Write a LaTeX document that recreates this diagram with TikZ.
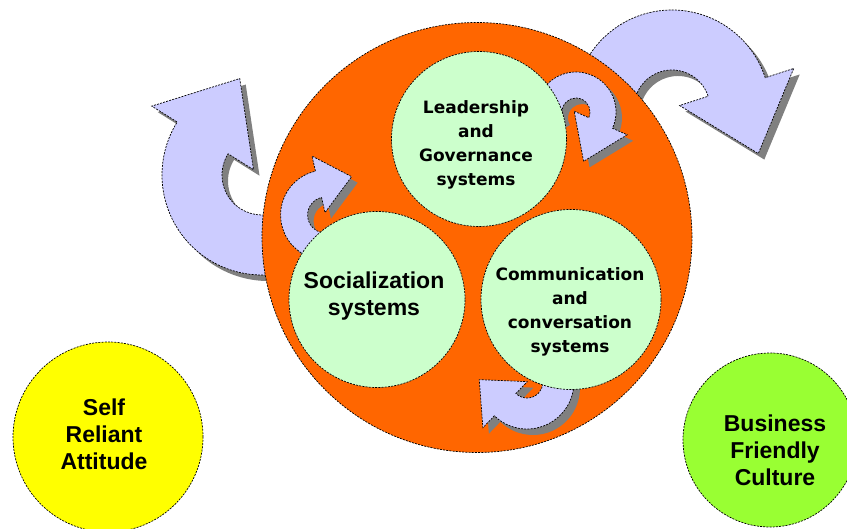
\documentclass[tikz,border=0pt]{standalone}
\usepackage{fontspec}
\usepackage{tikz}
\usetikzlibrary{calc,positioning}
\newfontfamily\headfont{Liberation Sans}
\newfontfamily\sysfont{DejaVu Sans}
\definecolor{hubred}{HTML}{FF6600}
\definecolor{sysgreen}{HTML}{CCFFCC}
\definecolor{arrowblue}{HTML}{CCCCFF}
\definecolor{shadowgray}{HTML}{808080}
\definecolor{selfyellow}{HTML}{FFFF00}
\definecolor{bizgreen}{HTML}{99FF33}
\tikzset{
  outline/.style={draw=black, line width=0.7pt, dash pattern=on 2pt off 1.2pt},
  turn/.style={outline, fill=arrowblue},
  turnshade/.style={fill=shadowgray, transform canvas={shift={(6pt,-6pt)}}},
  ring/.style={outline, circle, inner sep=0pt, minimum size=#1},
  bigtxt/.style={align=center, font=\headfont\bfseries\fontsize{23}{27}\selectfont},
  smalltxt/.style={align=center, font=\sysfont\bfseries\fontsize{17}{24}\selectfont}
}
% centre, inner r, outer r, tail angle, head angle, head half width, head length
\newcommand{\turnarrow}[7]{%
  \foreach \look in {turnshade,turn}
  \path[\look] ($(#1)+(#4:#3)$)
    arc[start angle=#4, end angle=#5, radius=#3]
    -- ($(#1)+(#5:{(#2+#3)/2+#6})$)
    -- ($(#1)+(#5:{(#2+#3)/2})+({#5+90}:#7)$)
    -- ($(#1)+(#5:{(#2+#3)/2-#6})$)
    -- ($(#1)+(#5:#2)$)
    arc[start angle=#5, end angle=#4, radius=#2] -- cycle;}

\begin{document}
\begin{tikzpicture}[x=1pt, y=-1pt]
  \useasboundingbox (0,0) rectangle (847,529);
  % outer loops
  \turnarrow{262,175}{40}{100}{60}{212}{60}{70}
  \turnarrow{672,108}{38}{98}{195}{342}{60}{70}
  \node[ring=430pt, fill=hubred] at (477,237.5) (hub) {};
  % inner loops
  \turnarrow{325.6,215}{18}{45}{90}{257}{29}{34}
  \turnarrow{576,112}{14}{40}{150}{384}{29}{42}
  \turnarrow{527,382}{16}{47}{-30}{134}{32}{36}
  \node[ring=175pt, fill=sysgreen] at (479,139) (lead) {};
  \node[ring=176pt, fill=sysgreen] at (377,299.5) (social) {};
  \node[ring=180pt, fill=sysgreen] at (571,299.5) (comm) {};
  \node[ring=190pt, fill=selfyellow] at (108,437) (self) {};
  \node[ring=174pt, fill=bizgreen] at (770,440) (biz) {};
  \node[smalltxt, xshift=-3pt, yshift=-5.5pt] at (lead) (leadtxt) {Leadership\\and\\Governance\\systems};
  \node[bigtxt, xshift=-3pt, yshift=3pt] at (social) (socialtxt) {Socialization\\systems};
  \node[smalltxt, xshift=-1pt, yshift=-12pt] at (comm) (commtxt) {Communication\\and\\conversation\\systems};
  \node[bigtxt, xshift=-4pt, yshift=3pt] at (self) (selftxt) {Self\\Reliant\\Attitude};
  \node[bigtxt, xshift=5pt, yshift=-10pt] at (biz) (biztxt) {Business\\Friendly\\Culture};
\end{tikzpicture}
\end{document}
